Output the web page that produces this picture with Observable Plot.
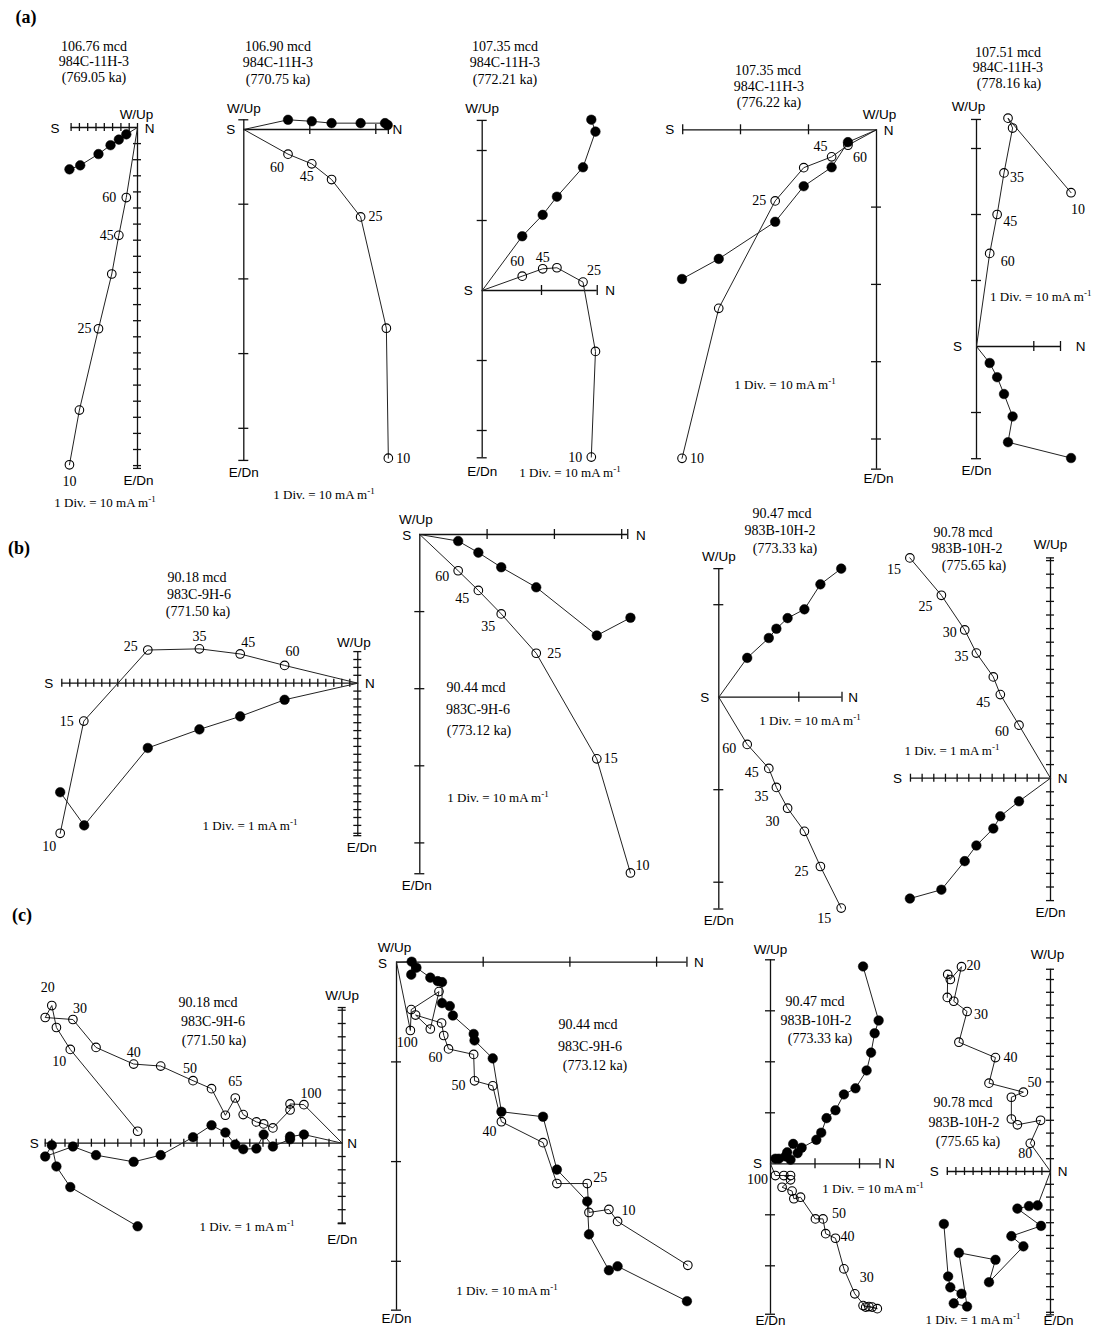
<!DOCTYPE html>
<html><head><meta charset="utf-8">
<script src="https://cdn.jsdelivr.net/npm/d3@7"></script>
<script src="https://cdn.jsdelivr.net/npm/@observablehq/plot@0.6"></script>
<style>
body{margin:0;background:#fff}
#fig{position:relative;width:1104px;height:1328px;overflow:hidden;font-family:"Liberation Serif",serif;color:#000;background:#fff}
#fig svg{position:absolute;left:0;top:0}
.t{position:absolute;white-space:nowrap;transform:translate(-50%,-50%);font-size:14px;line-height:1}
.d{font-size:13px}
.l{transform:translate(0,-50%)}
.t sup{font-size:9px;vertical-align:5px;line-height:0}
.pl{font-weight:bold;font-size:18px}
</style></head><body><div id="fig"></div><script>
// ===== DATA: [N component, Down component] in mA/m; open = vertical projection, closed = horizontal projection =====
const a1Open   = [[-82,419],[-70,351],[-47,250],[-31,182],[-22.5,134],[-13.5,87]];
const a1Closed = [[-82,52],[-69,47],[-47,33],[-32.5,22],[-22.5,15],[-13.5,8.5]];
const a1Steps  = ["10","","25","","45","60"];
const a1Title  = ["106.76 mcd","984C-11H-3","(769.05 ka)"];

const a2Open   = [[21.9,44],[21.6,26.6],[17.7,11.7],[13.3,6.7],[10.3,4.6],[6.7,3.3]];
const a2Closed = [[21.8,-0.6],[21.4,-0.85],[17.7,-0.85],[13.3,-0.85],[10.3,-1.1],[6.7,-1.3]];
const a2Steps  = ["10","","25","","45","60"];
const a2Title  = ["106.90 mcd","984C-11H-3","(770.75 ka)"];

const a3Open   = [[18.4,23.8],[19.1,8.7],[17.0,-1.2],[12.6,-3.25],[10.2,-3.1],[6.75,-2.05]];
const a3Closed = [[18.4,-24.4],[19.1,-22.7],[17.0,-17.6],[12.6,-13.4],[10.2,-10.8],[6.75,-7.75]];
const a3Steps  = ["10","","25","","45","60"];
const a3Title  = ["107.35 mcd","984C-11H-3","(772.21 ka)"];

const a4Open   = [[-28.6,42.5],[-23.2,23.1],[-14.9,9.2],[-10.7,4.9],[-6.6,3.5],[-4.2,2.0]];
const a4Closed = [[-28.6,19.3],[-23.2,16.7],[-14.9,11.9],[-10.7,7.3],[-6.6,4.85],[-4.2,1.6]];
const a4Steps  = ["10","","25","","45","60"];
const a4Title  = ["107.35 mcd","984C-11H-3","(776.22 ka)"];

const a5Open   = [[16.5,-23.3],[5.5,-34.6],[6.3,-33.1],[4.8,-26.3],[3.6,-20],[2.3,-14.1]];
const a5Closed = [[16.5,16.9],[5.5,14.5],[6.3,10.6],[4.8,7.2],[3.6,4.65],[2.3,2.5]];
const a5Steps  = ["10","","","35","45","60"];
const a5Title  = ["107.51 mcd","984C-11H-3","(778.16 ka)"];

const b1Open   = [[-37.2,19.0],[-34.25,4.8],[-26.25,-4.2],[-19.8,-4.35],[-14.7,-3.7],[-9.15,-2.25]];
const b1Closed = [[-37.2,13.8],[-34.2,18.0],[-26.25,8.2],[-19.8,5.85],[-14.7,4.2],[-9.15,2.1]];
const b1Steps  = ["10","15","25","35","45","60"];
const b1Title  = ["90.18 mcd","983C-9H-6","(771.50 ka)"];

const b2Open   = [[31.3,43.9],[26.3,29.1],[17.3,15.4],[12.1,10.3],[8.7,7.25],[5.7,4.7]];
const b2Closed = [[31.3,10.8],[26.3,13.1],[17.3,6.85],[12.1,4.25],[8.7,2.35],[5.7,0.85]];
const b2Steps  = ["10","15","25","35","45","60"];
const b2Title  = ["90.44 mcd","983C-9H-6","(773.12 ka)"];

const b3Open   = [[15.3,22.8],[12.7,18.3],[10.7,14.5],[8.6,12.0],[7.2,9.75],[6.25,7.7],[3.55,5.1]];
const b3Closed = [[15.3,-13.9],[12.7,-12.2],[10.7,-9.5],[8.6,-8.55],[7.2,-7.4],[6.25,-6.4],[3.55,-4.25]];
const b3Steps  = ["15","25","","30","35","45","60"];
const b3Title  = ["90.47 mcd","983B-10H-2","(773.33 ka)"];

const b4Open   = [[-12.05,-16.2],[-9.35,-13.45],[-7.35,-10.9],[-6.35,-9.2],[-4.9,-7.45],[-4.3,-6.15],[-2.7,-3.9]];
const b4Closed = [[-12.05,8.85],[-9.35,8.2],[-7.35,6.1],[-6.35,4.95],[-4.9,3.7],[-4.3,2.8],[-2.7,1.7]];
const b4Steps  = ["15","25","30","35","","45","60"];
const b4Title  = ["90.78 mcd","983B-10H-2","(775.65 ka)"];

const c1Open   = [[-15.5,-0.9],[-20.6,-7.05],[-21.65,-8.7],[-22.0,-10.35],[-22.5,-9.45],[-20.4,-9.3],[-18.65,-7.2],[-15.8,-5.95],[-13.75,-5.8],[-11.3,-4.7],[-9.9,-4.1],[-8.85,-2.1],[-8.1,-3.4],[-7.5,-2.15],[-6.5,-1.6],[-5.95,-1.45],[-5.25,-1.15],[-3.95,-2.5],[-3.95,-2.95],[-2.9,-2.9]];
const c1Closed = [[-15.5,6.25],[-20.6,3.3],[-21.65,1.75],[-22.0,0.15],[-22.5,1.0],[-20.4,0.25],[-18.65,0.9],[-15.8,1.4],[-13.75,0.9],[-11.3,-0.45],[-9.9,-1.35],[-8.85,-0.8],[-8.1,0.1],[-7.5,0.45],[-6.5,0.4],[-5.95,-0.65],[-5.25,0.25],[-3.95,-0.3],[-3.95,-0.5],[-2.9,-0.65]];
const c1Steps  = ["","10","","20","","30","","40","","50","","","65","","","","","","","100"];
const c1Title  = ["90.18 mcd","983C-9H-6","(771.50 ka)"];

const c2Open   = [[33.6,30.4],[25.5,26.0],[24.5,24.8],[22.2,25.1],[22.0,22.2],[18.5,22.2],[16.9,18.1],[12.1,16.0],[11.1,12.4],[9.0,11.9],[8.9,9.25],[6.0,8.7],[5.45,7.35],[5.2,6.1],[2.2,5.3],[3.9,6.7],[4.9,2.95],[1.7,4.75],[1.6,6.85]];
const c2Closed = [[33.5,34.0],[25.5,30.5],[24.5,30.9],[22.2,27.3],[22.0,24.0],[18.5,20.8],[16.9,15.5],[12.1,15.0],[11.1,9.65],[9.0,7.85],[8.9,7.2],[6.5,5.35],[6.15,4.4],[5.25,4.1],[5.25,2.0],[4.75,1.9],[3.9,1.55],[2.3,0.55],[1.7,1.25],[1.75,-0.05]];
const c2Steps  = ["","10","","","25","","","40","","50","","60","","","","","","","100"];
const c2Title  = ["90.44 mcd","983C-9H-6","(773.12 ka)"];

const c3Open   = [[20.8,27.8],[24.0,28.4],[22.85,28.1],[22.1,28.0],[21.4,28.1],[18.95,25.5],[16.5,20.6],[14.6,14.6],[12.4,13.7],[11.8,10.8],[10.1,10.8],[6.75,6.55],[5.25,6.85],[4.85,5.35],[2.6,4.6],[4.5,3.15],[3.0,2.3],[4.5,2.3],[1.1,2.3]];
const c3Closed = [[20.8,-38.7],[24.3,-28.1],[23.4,-25.6],[22.6,-21.8],[21.6,-18.3],[19.1,-14.8],[16.5,-13.6],[14.6,-10.5],[12.6,-8.95],[11.4,-6.1],[10.3,-4.7],[7.0,-3.15],[6.1,-2.1],[5.1,-3.9],[3.75,-2.25],[3.35,-1.45],[4.5,-0.8],[1.9,-1.0],[1.1,-1.0]];
const c3Steps  = ["","","","","","30","","40","","50","","","","","","","","","100"];
const c3Title  = ["90.47 mcd","983B-10H-2","(773.33 ka)"];

const c4Open   = [[-12.0,-13.6],[-11.95,-15.4],[-11.65,-15.0],[-10.35,-16.0],[-11.25,-13.3],[-9.7,-12.5],[-10.65,-10.1],[-6.4,-8.9],[-7.15,-6.9],[-3.15,-6.2],[-4.55,-5.8],[-4.55,-4.1],[-3.85,-3.65],[-1.15,-4.0],[-2.35,-2.2]];
const c4Closed = [[-12.4,4.1],[-11.9,8.2],[-11.65,9.05],[-10.35,9.55],[-11.25,10.3],[-9.7,10.55],[-10.65,6.35],[-6.4,6.9],[-7.15,8.65],[-3.15,5.85],[-4.55,5.05],[-1.1,4.25],[-3.85,2.9],[-2.5,2.7],[-1.5,2.65]];
const c4Steps  = ["","","","20","","30","","40","","50","","","","","80"];
const c4Title  = ["90.78 mcd","983B-10H-2","(775.65 ka)"];

// division value (mA/m) of each diagram
const divValues = {a1:10,a2:10,a3:10,a4:10,a5:10,b1:1,b2:10,b3:10,b4:1,c1:1,c2:10,c3:10,c4:1};
const panelLetters = ["(a)","(b)","(c)"];

// ===== LAYOUT (page pixels) =====
const W = 1104, H = 1328;
const layout = {
 a1:{ox:137,oy:127,kx:0.83,ky:0.805,xAxis:[-80,0],yAxis:[-5,423.5],xStep:10,yStep:20,tick:4,noTop:true,
     lab:{S:[-16,1],N:[12,1],W:[-1,-9],E:[1,12]},labels:{"10":[0,17],"25":[-14,0],"45":[-12,0],"60":[-17,0]},
     title:[[94,47],[94,62],[94,78]],div:[105,502]},
 a2:{ox:243.3,oy:129,kx:6.6,ky:7.47,xAxis:[0,21.9],yAxis:[-1.3,44.3],xStep:10,yStep:10,tick:5,
     lab:{S:[-13,0],N:[9,0],W:[0,-11],E:[0,12]},labels:{"10":[15,0],"25":[15,0],"45":[-5,13],"60":[-11,13]},
     title:[[278,47],[278,63],[278,80]],div:[324,494]},
 a3:{ox:481.7,oy:290,kx:5.93,ky:7.0,xAxis:[0,19.4],yAxis:[-24.3,23.9],xStep:10,yStep:10,tick:5,
     lab:{S:[-14,0],N:[13,0],W:[0,-12],E:[0,14]},labels:{"10":[-16,0],"25":[11,-12],"45":[0,-11],"60":[-5,-15]},
     title:[[505,47],[505,63],[505,80]],div:[570,472]},
 a4:{ox:876,oy:129.3,kx:6.8,ky:7.73,xAxis:[-28.5,0],yAxis:[0,43.9],xStep:10,yStep:10,tick:5,
     lab:{S:[-13,0],N:[12,1],W:[3,-15],E:[2,10]},labels:{"10":[15,0],"25":[-16,0],"45":[-11,-10],"60":[12,12]},
     title:[[768,71],[769,87],[769,103]],div:[785,384]},
 a5:{ox:976,oy:346,kx:5.73,ky:6.6,xAxis:[0,14.66],yAxis:[-34.4,17],xStep:10,yStep:10,tick:5,
     lab:{S:[-19,0],N:[20,0],W:[-8,-13],E:[0,12]},labels:{"10":[7,17],"35":[13,5],"45":[13,7],"60":[18,8]},
     title:[[1008,53],[1008,68],[1009,84]],div:[990,296],divLeft:true},
 b1:{ox:357.3,oy:682.7,kx:8.0,ky:7.9,xAxis:[-37,0],yAxis:[-4,19.3],xStep:1,yStep:1,tick:4,
     lab:{S:[-13,0],N:[12,0],W:[-4,-9],E:[4,12]},labels:{"10":[-11,13],"15":[-17,0],"25":[-17,-4],"35":[0,-12],"45":[8,-11],"60":[8,-14]},
     title:[[197,578],[199,595],[198,612]],div:[250,825]},
 b2:{ox:419.3,oy:534,kx:6.73,ky:7.71,xAxis:[0,30.9],yAxis:[0,44],xStep:10,yStep:10,tick:5,
     lab:{S:[-13,1],N:[13,1],W:[-4,-15],E:[-3,12]},labels:{"10":[12,-7],"15":[14,0],"25":[18,0],"35":[-13,13],"45":[-16,8],"60":[-16,6]},
     title:[[476,688],[478,710],[479,731]],div:[498,797]},
 b3:{ox:718.3,oy:696.7,kx:8.0,ky:9.25,xAxis:[0,15.4],yAxis:[-13.9,22.9],xStep:10,yStep:10,tick:5,
     lab:{S:[-14,0],N:[11,0],W:[0,-12],E:[0,12]},labels:{"15":[-17,10],"25":[-19,5],"30":[-15,13],"35":[-15,9],"45":[-17,4],"60":[-18,4]},
     title:[[782,514],[780,531],[785,549]],div:[810,720]},
 b4:{ox:1050,oy:777.7,kx:11.67,ky:13.6,xAxis:[-12,0],yAxis:[-16.2,9],xStep:1,yStep:1,tick:4,
     lab:{S:[-13,0],N:[12,0],W:[0,-13],E:[0,12]},labels:{"15":[-16,12],"25":[-16,11],"30":[-15,3],"35":[-15,3],"45":[-17,8],"60":[-17,6]},
     title:[[963,533],[967,549],[974,566]],div:[952,750]},
 c1:{ox:341.7,oy:1142.7,kx:13.2,ky:13.3,xAxis:[-22.5,0],yAxis:[-10.2,6.05],xStep:1,yStep:1,tick:4,
     lab:{S:[-11,0],N:[10,0],W:[0,-12],E:[0,16]},labels:{"10":[-11,12],"20":[-4,-18],"30":[7,-11],"40":[0,-12],"50":[-3,-12],"65":[0,-16],"100":[7,-11]},
     title:[[208,1003],[213,1022],[214,1041]],div:[247,1226]},
 c2:{ox:396,oy:961.7,kx:8.67,ky:9.97,xAxis:[0,33.5],yAxis:[0,34.9],xStep:10,yStep:10,tick:5,
     lab:{S:[-14,1],N:[12,0],W:[-2,-15],E:[0,9]},labels:{"10":[11,-11],"25":[13,-6],"40":[-12,10],"50":[-16,5],"60":[-13,9],"100":[-3,12]},
     title:[[588,1025],[590,1047],[595,1066]],div:[507,1290]},
 c3:{ox:770,oy:1163.3,kx:4.45,ky:5.1,xAxis:[0,24.6],yAxis:[-40,29.5],xStep:10,yStep:10,tick:5,
     lab:{S:[-13,0],N:[10,0],W:[0,-10],E:[0,6]},labels:{"30":[12,-16],"40":[12,-2],"50":[16,-5],"100":[-18,4]},
     title:[[815,1002],[816,1021],[820,1039]],div:[873,1188]},
 c4:{ox:1050,oy:1171,kx:8.6,ky:12.8,xAxis:[-12,0],yAxis:[-15.8,11.2],xStep:1,yStep:1,tick:4,
     lab:{S:[-13,0],N:[12,0],W:[-3,-15],E:[8,6]},labels:{"20":[12,-1],"30":[14,3],"40":[15,0],"50":[11,-10],"80":[-5,10]},
     title:[[963,1103],[964,1123],[968,1142]],div:[973,1319]}
};
const letterPos = [[26,17],[19,548],[22,915]];

const panels = [
 ["a1",a1Open,a1Closed,a1Steps,a1Title],["a2",a2Open,a2Closed,a2Steps,a2Title],["a3",a3Open,a3Closed,a3Steps,a3Title],
 ["a4",a4Open,a4Closed,a4Steps,a4Title],["a5",a5Open,a5Closed,a5Steps,a5Title],
 ["b1",b1Open,b1Closed,b1Steps,b1Title],["b2",b2Open,b2Closed,b2Steps,b2Title],["b3",b3Open,b3Closed,b3Steps,b3Title],
 ["b4",b4Open,b4Closed,b4Steps,b4Title],
 ["c1",c1Open,c1Closed,c1Steps,c1Title],["c2",c2Open,c2Closed,c2Steps,c2Title],["c3",c3Open,c3Closed,c3Steps,c3Title],
 ["c4",c4Open,c4Closed,c4Steps,c4Title]
];

const fig = document.getElementById("fig");
const AX = "#111";

function tickVals([a, b], s, noTop) {
  const t = [];
  for (let k = Math.ceil(a / s - 1e-9); k * s <= b + 1e-9; k++) if (k !== 0) t.push(k * s);
  const near = v => t.some(u => Math.abs(u - v) < 1e-6);
  if (a < 0 && !noTop && !near(a)) t.push(a);
  if (b > 0 && !near(b)) t.push(b);
  return t;
}

function addText(html, x, y, cls) {
  const d = document.createElement("div");
  d.className = "t " + (cls || "");
  d.innerHTML = html;
  d.style.left = x + "px"; d.style.top = y + "px";
  fig.appendChild(d);
}

function drawPanel([id, open, closed, steps, title]) {
  const L = layout[id];
  const xd = [(0 - L.ox) / L.kx, (W - L.ox) / L.kx];
  const yd = [(0 - L.oy) / L.ky, (H - L.oy) / L.ky];
  const O = open.map(([n, d]) => ({n, d}));
  const C = closed.map(([n, d]) => ({n, d}));
  const withOrigin = a => [...a, {n: 0, d: 0}];
  const xt = tickVals(L.xAxis, L.xStep, false);
  const yt = tickVals(L.yAxis, L.yStep, L.noTop);
  const marks = [
    Plot.ruleY([0], {x1: L.xAxis[0], x2: L.xAxis[1], stroke: AX, strokeWidth: 1.3}),
    Plot.ruleX([0], {y1: L.yAxis[0], y2: L.yAxis[1], stroke: AX, strokeWidth: 1.3}),
    Plot.ruleX(xt, {y1: 0, y2: 0, insetTop: -L.tick, insetBottom: -L.tick, stroke: AX, strokeWidth: 1.3}),
    Plot.ruleY(yt, {x1: 0, x2: 0, insetLeft: -L.tick, insetRight: -L.tick, stroke: AX, strokeWidth: 1.3}),
    Plot.line(withOrigin(O), {x: "n", y: "d", stroke: "#222", strokeWidth: 1}),
    Plot.line(withOrigin(C), {x: "n", y: "d", stroke: "#222", strokeWidth: 1}),
    Plot.dot(C, {x: "n", y: "d", r: 4.8, fill: "#000", stroke: "#000", strokeWidth: 0.5}),
    Plot.dot(O, {x: "n", y: "d", r: 4.3, fill: "none", stroke: "#000", strokeWidth: 1.1})
  ];
  steps.forEach((s, i) => {
    if (!s || !O[i] || !L.labels[s]) return;
    const [dx, dy] = L.labels[s];
    marks.push(Plot.text([O[i]], {x: "n", y: "d", text: () => s, dx, dy, fontSize: 14, fill: "#000"}));
  });
  const ends = {S: [Math.min(L.xAxis[0], 0), 0], N: [Math.max(L.xAxis[1], 0), 0], W: [0, L.yAxis[0]], E: [0, L.yAxis[1]]};
  const names = {S: "S", N: "N", W: "W/Up", E: "E/Dn"};
  for (const k of ["S", "N", "W", "E"]) {
    const [dx, dy] = L.lab[k];
    marks.push(Plot.text([ends[k]], {x: d => d[0], y: d => d[1], text: () => names[k], dx, dy,
      fontFamily: "Liberation Sans", fontSize: 13.5, fill: "#000"}));
  }
  const svg = Plot.plot({
    width: W, height: H, margin: 0,
    x: {domain: xd, range: [0, W], axis: null},
    y: {domain: yd, range: [0, H], axis: null},
    style: {background: "transparent", overflow: "visible", fontFamily: "Liberation Serif", fontSize: "14px"},
    marks
  });
  svg.style.position = "absolute"; svg.style.left = "0px"; svg.style.top = "0px";
  svg.style.maxWidth = "none";
  fig.appendChild(svg);
  title.forEach((t, i) => addText(t, L.title[i][0], L.title[i][1]));
  addText(`1 Div. = ${divValues[id]} mA m<sup>-1</sup>`, L.div[0], L.div[1], "d" + (L.divLeft ? " l" : ""));
}

panels.forEach(drawPanel);
panelLetters.forEach((t, i) => addText(t, letterPos[i][0], letterPos[i][1], "pl"));
</script></body></html>
